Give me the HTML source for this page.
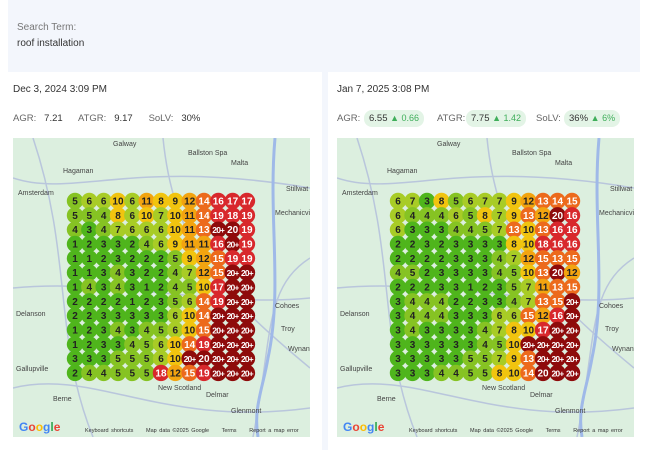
<!DOCTYPE html>
<html><head><meta charset="utf-8"><style>
body{margin:0;width:647px;height:450px;background:#fff;font-family:"Liberation Sans",sans-serif;position:relative;overflow:hidden}
.abs{position:absolute}
#hdr{left:8px;top:0;width:632px;height:72px;background:#f3f6fc}
.card{top:72px;height:372px;background:#fff}
.lbl{font-size:9.5px;color:#666}
.val{font-size:9.5px;color:#333}
.pill{background:#e3f4e6;border-radius:8px;height:17px;line-height:17px;padding:0 5px;font-size:9.5px;color:#333}
.pill b{font-weight:normal;color:#3fae5a;font-size:9px}
.map{width:297px;height:299px;background:#dcefdf;overflow:hidden}
.map svg{position:absolute;left:0;top:0}
.town{font-size:7px;color:#444}
</style></head><body>
<div id="hdr" class="abs">
<div class="abs lbl" style="left:9px;top:22px;font-size:10px;color:#777">Search Term:</div>
<div class="abs val" style="left:9px;top:38px;font-size:10px">roof installation</div>
</div>
<div class="abs" style="left:322px;top:72px;width:6px;height:378px;background:#f3f6fc"></div>
<div class="abs card" style="left:8px;width:314px">
<div class="abs val" style="left:5px;top:12px;font-size:10px">Dec 3, 2024 3:09 PM</div>
<div class="abs" style="left:5px;top:41px;font-size:9.5px"><span class="lbl">AGR:</span>&nbsp;&nbsp; <span class="val">7.21</span>&nbsp;&nbsp;&nbsp;&nbsp;&nbsp; <span class="lbl">ATGR:</span>&nbsp;&nbsp; <span class="val">9.17</span>&nbsp;&nbsp;&nbsp;&nbsp;&nbsp; <span class="lbl">SoLV:</span>&nbsp;&nbsp; <span class="val">30%</span></div>
</div>
<div class="abs card" style="left:328px;width:312px">
<div class="abs val" style="left:9px;top:12px;font-size:10px">Jan 7, 2025 3:08 PM</div>
<div class="abs lbl" style="left:9px;top:41px">AGR:</div>
<div class="abs pill" style="left:36px;top:38px">6.55 <b>▲ 0.66</b></div>
<div class="abs lbl" style="left:109px;top:41px">ATGR:</div>
<div class="abs pill" style="left:138px;top:38px">7.75 <b>▲ 1.42</b></div>
<div class="abs lbl" style="left:208px;top:41px">SoLV:</div>
<div class="abs pill" style="left:236px;top:38px">36% <b>▲ 6%</b></div>
</div>
<div id="mapL" class="abs map" style="left:13px;top:138px"></div>
<div id="mapR" class="abs map" style="left:337px;top:138px"></div>
<script>
const gridLeft = [
[5,6,6,10,6,11,8,9,12,14,16,17,17],
[5,5,4,8,6,10,7,10,11,14,19,18,19],
[4,3,4,7,6,6,6,10,11,13,"20+",20,19],
[1,2,3,3,2,4,6,9,11,11,16,"20+",19],
[1,1,2,3,2,2,2,5,9,12,15,19,19],
[1,1,3,4,3,2,2,4,7,12,15,"20+","20+"],
[1,4,3,4,3,1,2,4,5,10,17,"20+","20+"],
[2,2,2,2,1,2,3,5,6,14,19,"20+","20+"],
[2,2,3,3,3,3,3,6,10,14,"20+","20+","20+"],
[1,2,3,4,3,4,5,6,10,15,"20+","20+","20+"],
[1,2,3,3,4,5,6,10,14,19,"20+","20+","20+"],
[3,3,3,5,5,5,6,10,"20+",20,"20+","20+","20+"],
[2,4,4,5,5,5,18,12,15,19,"20+","20+","20+"]];
const gridRight = [
[6,7,3,8,5,6,7,7,9,12,13,14,15],
[6,4,4,4,6,5,8,7,9,13,12,20,16],
[6,3,3,3,4,4,5,7,13,10,13,16,16],
[2,2,3,2,3,3,3,3,8,10,18,16,16],
[2,2,2,2,3,3,3,4,7,12,15,13,15],
[4,5,2,3,3,3,3,4,5,10,13,20,12],
[2,2,2,3,3,1,2,3,5,7,11,13,15],
[3,4,4,4,2,2,3,3,4,7,13,15,"20+"],
[3,4,4,4,3,3,3,6,6,15,12,16,"20+"],
[3,4,3,3,3,3,4,7,8,10,17,"20+","20+"],
[3,3,3,3,3,3,4,5,10,"20+","20+","20+","20+"],
[3,3,3,3,3,5,5,7,9,13,"20+","20+","20+"],
[3,3,3,4,4,5,5,8,10,14,20,"20+","20+"]];
const towns=[["Galway",100,3],["Ballston Spa",175,12],["Malta",218,22],["Hagaman",50,30],["Amsterdam",5,52],["Stillwat",273,48],["Mechanicville",262,72],["Cohoes",262,165],["Troy",268,188],["Wynant",275,208],["Delanson",3,173],["Gallupville",3,228],["Berne",40,258],["New Scotland",145,247],["Delmar",193,254],["Glenmont",218,270]];
function color(v){const n=v==="20+"?21:v;
 if(n>=20)return["#8e0b0b","#fff"];if(n>=16)return["#d8282c","#fff"];if(n>=13)return["#ec6a1c","#fff"];
 if(n>=11)return["#f2a410","#222"];if(n>=8)return["#f1c40f","#222"];if(n>=6)return["#a8cc26","#222"];if(n>=4)return["#86c323","#222"];return["#4fb51c","#222"];}
function draw(id,grid,x0,dx){
 const m=document.getElementById(id);const ns="http://www.w3.org/2000/svg";
 const s=document.createElementNS(ns,"svg");s.setAttribute("width",297);s.setAttribute("height",299);
 s.innerHTML='<path d="M0 40 C60 60 120 20 297 50 M20 0 C60 120 40 200 80 299 M297 120 C250 150 260 200 240 299 M0 150 C100 140 200 170 297 160 M150 0 C160 100 200 150 297 230 M0 250 C80 230 150 290 297 270" stroke="#b9c6dc" stroke-width="1.5" fill="none"/><path d="M262 0 C255 80 270 150 255 220 C250 250 240 270 245 299" stroke="#9fb9e8" stroke-width="3" fill="none"/>';
 m.appendChild(s);
 towns.forEach(t=>{const d=document.createElement("div");d.className="abs town";d.style.left=t[1]+"px";d.style.top=t[2]+"px";d.textContent=t[0];
  
  m.appendChild(d);});
 grid.forEach((row,r)=>row.forEach((v,c)=>{
  const cx=x0+c*dx,cy=63+r*14.33;const [bg,fg]=color(v);
  const e=document.createElementNS(ns,"circle");e.setAttribute("cx",cx);e.setAttribute("cy",cy);e.setAttribute("r",8.2);e.setAttribute("fill",bg);
  
  s.appendChild(e);
  const t=document.createElementNS(ns,"text");t.setAttribute("x",cx);t.setAttribute("y",cy+3.5);t.setAttribute("text-anchor","middle");
  t.setAttribute("font-size",v==="20+"?"8.5":"10");t.setAttribute("font-weight","bold");t.setAttribute("fill",fg);t.setAttribute("font-family","Liberation Sans, sans-serif");
  t.setAttribute("letter-spacing",v==="20+"?"-0.8":"0");
  t.textContent=v;
  
  s.appendChild(t);}));
 const g=document.createElement("div");g.className="abs";g.style.cssText="left:6px;top:282px;font-size:12px;font-weight:bold";
 g.innerHTML='<span style="color:#4285f4">G</span><span style="color:#ea4335">o</span><span style="color:#fbbc05">o</span><span style="color:#4285f4">g</span><span style="color:#34a853">l</span><span style="color:#ea4335">e</span>';
 
 m.appendChild(g);
 const f=document.createElement("div");f.className="abs";f.style.cssText="left:72px;top:290px;font-size:5.5px;color:#333;white-space:pre;word-spacing:1px";
 f.textContent="Keyboard shortcuts     Map data ©2025 Google     Terms     Report a map error";
 
 m.appendChild(f);
}
draw("mapL",gridLeft,62,14.33);
draw("mapR",gridRight,61,14.5);
</script>
</body></html>
